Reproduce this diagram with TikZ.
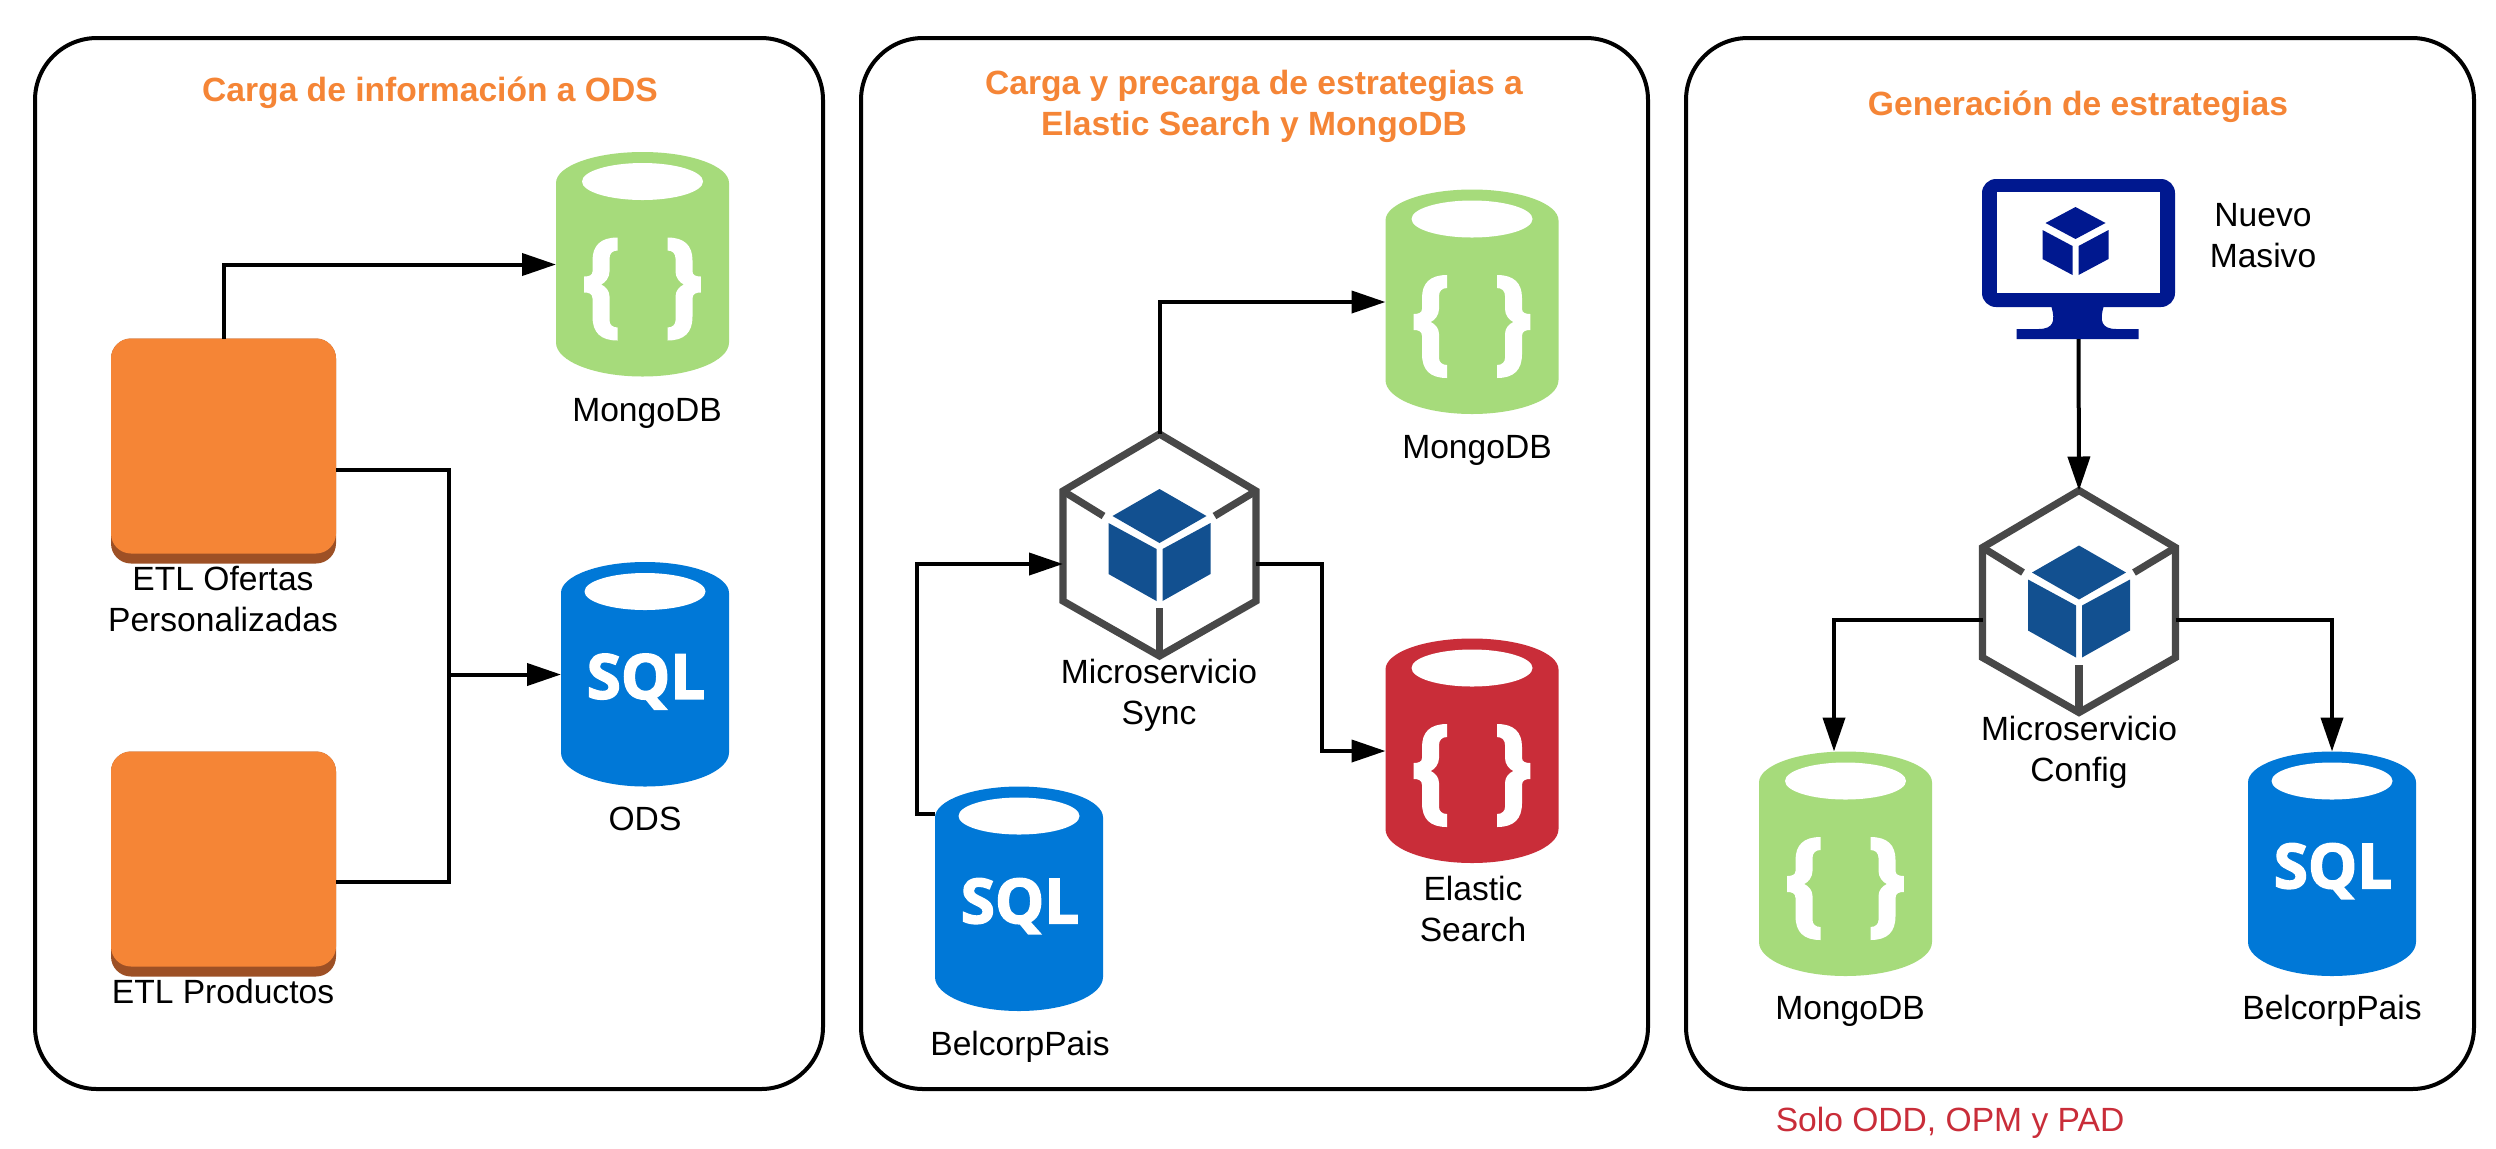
\documentclass[tikz,border=0pt]{standalone}
\usepackage{fontspec}
\setmainfont{Liberation Sans}
\newfontfamily\sqlfont{Open Sans}[BoldFeatures={FakeBold=2.5}]
\usetikzlibrary{arrows.meta,calc}
\definecolor{mongogreen}{HTML}{A6DB7B}
\definecolor{sqlblue}{HTML}{0078D7}
\definecolor{elasticred}{HTML}{C92D39}
\definecolor{etlorange}{HTML}{F58536}
\definecolor{etldark}{HTML}{9D5025}
\definecolor{cubeblue}{HTML}{125090}
\definecolor{hexgrey}{HTML}{484848}
\definecolor{screenblue}{HTML}{00188F}
\tikzset{
  panel/.style={draw=black,line width=2pt,rounded corners=31pt,fill=white},
  dbbox/.style={inner sep=0pt,outer sep=0pt,minimum width=86.5pt,minimum height=112.5pt},
  sqlbox/.style={inner sep=0pt,outer sep=0pt,minimum width=84pt,minimum height=112.5pt},
  hexbox/.style={inner sep=0pt,outer sep=0pt,minimum width=96.5pt,minimum height=111pt},
  etlbox/.style={inner sep=0pt,outer sep=0pt,minimum width=112.5pt,minimum height=112.5pt},
  screenbox/.style={inner sep=0pt,outer sep=0pt,minimum width=96.5pt,minimum height=80pt},
  lbl/.style={font=\fontsize{16.8}{20.5}\selectfont,align=center,text=black,inner sep=0pt},
  ttl/.style={font=\fontsize{16.8}{20.5}\selectfont\bfseries,align=center,text=etlorange,inner sep=0pt},
  note/.style={font=\fontsize{16.8}{20.5}\selectfont,text=elasticred,inner sep=0pt},
  conn/.style={draw=black,line width=2pt,-{Triangle[length=17pt,width=11pt]}},
  plainconn/.style={draw=black,line width=2pt},
  hexline/.style={draw=hexgrey,line width=3.6pt,line join=miter},
}
\newcommand{\dbshape}[3]{% node, half width, colour
  \begin{scope}[shift={(#1.center)}]
    \fill[#3] (-#2,-81.5) arc[start angle=180,end angle=360,x radius=#2,y radius=31]
      -- (#2,78) arc[start angle=0,end angle=180,x radius=#2,y radius=34] -- cycle;
    \fill[white] (0,-83) ellipse[x radius=60.5,y radius=18.5];
  \end{scope}}
\newcommand{\onebrace}{(-25,-27) .. controls (-42,-27) and (-50,-19) .. (-50,-4)
  -- (-50,7) .. controls (-50,11) and (-54,12) .. (-58.3,12) -- (-58.3,28)
  .. controls (-54,28) and (-50,29) .. (-50,34) -- (-50,52)
  .. controls (-50,68) and (-42,76) .. (-25,76) -- (-25,63)
  .. controls (-30,63) and (-33,60) .. (-33,56) -- (-33,32)
  .. controls (-33,26) and (-37,22) .. (-41.3,20)
  .. controls (-37,18) and (-33,13) .. (-33,7) -- (-33,-6)
  .. controls (-33,-11) and (-30,-14) .. (-25,-14) -- cycle}
\newcommand{\bracedb}[2]{% node, colour
  \dbshape{#1}{86.5}{#2}
  \begin{scope}[shift={(#1.center)}]
    \fill[white] \onebrace;
    \fill[white,xscale=-1] \onebrace;
  \end{scope}}
\newcommand{\sqldb}[1]{%
  \dbshape{#1}{84}{sqlblue}
  \node[text=white,inner sep=0pt,font=\fontsize{31}{31}\sqlfont\bfseries] (#1t) at ($(#1.center)+(1,7)$) {SQL};}
\newcommand{\hexicon}[1]{%
  \begin{scope}[shift={(#1.center)}]
    \draw[hexline] (0,-111) -- (96.5,-54) -- (96.5,56) -- (0,111) -- (-96.5,56) -- (-96.5,-54) -- cycle;
    \draw[hexline] (-96.5,-54) -- (-56,-29);
    \draw[hexline] (96.5,-54) -- (55,-29);
    \draw[hexline] (0,111) -- (0,63);
    \fill[cubeblue] (0,-56) -- (47,-29) -- (0,-2) -- (-47,-29) -- cycle;
    \fill[cubeblue] (-51,-22) -- (-3,4) -- (-3,56) -- (-51,29) -- cycle;
    \fill[cubeblue] (51,-22) -- (3,4) -- (3,56) -- (51,29) -- cycle;
  \end{scope}}
\newcommand{\etlicon}[1]{%
  \begin{scope}[shift={(#1.center)}]
    \fill[etldark,rounded corners=10pt] (-112.5,-112.5) rectangle (112.5,112.5);
    \fill[etlorange,rounded corners=10pt] (-112.5,-112.5) rectangle (112.5,102.5);
  \end{scope}}
\newcommand{\screenicon}[1]{%
  \begin{scope}[shift={(#1.center)}]
    \fill[screenblue,rounded corners=7pt] (-96.5,-80) rectangle (96.5,48);
    \fill[white] (-81.5,-67) rectangle (81.5,34);
    \fill[screenblue] (-27,48) .. controls (-23,62) and (-25,70) .. (-40,70) -- (-62,70)
      -- (-62,80) -- (60,80) -- (60,70) -- (38,70) .. controls (23,70) and (21,62) .. (25,48) -- cycle;
    \fill[screenblue] (-3,-52) -- (27,-36) -- (-3,-20) -- (-33,-36) -- cycle;
    \fill[screenblue] (-36,-29) -- (-6,-13) -- (-6,16) -- (-36,0) -- cycle;
    \fill[screenblue] (30,-29) -- (0,-13) -- (0,16) -- (30,0) -- cycle;
  \end{scope}}
\begin{document}
\begin{tikzpicture}[x=0.5pt,y=-0.5pt]
\useasboundingbox (0,0) rectangle (2496,1148);
\fill[white] (0,0) rectangle (2496,1148);
% panels
\node[panel,minimum width=394pt,minimum height=525.5pt,inner sep=0pt] (p1) at (429,563.5) {};
\node[panel,minimum width=393.5pt,minimum height=525.5pt,inner sep=0pt] (p2) at (1254.5,563.5) {};
\node[panel,minimum width=394pt,minimum height=525.5pt,inner sep=0pt] (p3) at (2080,563.5) {};
% titles
\node[ttl] (t1) at (430,93) {Carga de información a ODS};
\node[ttl] (t2) at (1254,106) {Carga y precarga de estrategias a\\Elastic Search y MongoDB};
\node[ttl] (t3) at (2078,107) {Generación de estrategias};
% panel 1
\node[etlbox] (etlA) at (223.5,451) {};
\node[etlbox] (etlB) at (223.5,864) {};
\etlicon{etlA}\etlicon{etlB}
\node[dbbox] (mongoA) at (642.5,264.5) {};
\bracedb{mongoA}{mongogreen}
\node[sqlbox] (ods) at (645,674.5) {};
\sqldb{ods}
\coordinate (join) at (449,674.5);
\node[lbl] (lA) at (647,413) {MongoDB};
\node[lbl] (lB) at (645,819) {ODS};
\node[lbl] (lC) at (223,599) {ETL Ofertas\\Personalizadas};
\node[lbl] (lD) at (223,991) {ETL Productos};
% panel 2
\node[hexbox] (hexA) at (1159.5,545) {};
\hexicon{hexA}
\node[dbbox] (mongoB) at (1472,302) {};
\bracedb{mongoB}{mongogreen}
\node[dbbox] (elastic) at (1472,751) {};
\bracedb{elastic}{elasticred}
\node[sqlbox] (bpA) at (1019,899) {};
\sqldb{bpA}
\node[lbl] (lE) at (1477,450) {MongoDB};
\node[lbl] (lF) at (1159,695) {Microservicio\\Sync};
\node[lbl] (lG) at (1473,909) {Elastic\\Search};
\node[lbl] (lH) at (1020,1047) {BelcorpPais};
% panel 3
\node[screenbox] (scr) at (2078.5,259) {};
\screenicon{scr}
\node[hexbox] (hexB) at (2079,601.5) {};
\hexicon{hexB}
\node[dbbox] (mongoC) at (1845.5,864) {};
\bracedb{mongoC}{mongogreen}
\node[sqlbox] (bpB) at (2332,864) {};
\sqldb{bpB}
\node[lbl] (lI) at (2263,236) {Nuevo\\Masivo};
\node[lbl] (lJ) at (2079,752.5) {Microservicio\\Config};
\node[lbl] (lK) at (1850,1011) {MongoDB};
\node[lbl] (lL) at (2332,1011) {BelcorpPais};
\node[note] (lM) at (1950,1123) {Solo ODD, OPM y PAD};
% connectors panel 1
\draw[conn] (etlA.north) |- (mongoA.west);
\draw[plainconn] ([yshift=-9.5pt]etlA.east) -| (join);
\draw[plainconn] ([yshift=-9pt]etlB.east) -| (join);
\draw[conn] (join) -- (ods.west);
% connectors panel 2
\draw[conn] (hexA.north) |- (mongoB.west);
\draw[conn] ([yshift=-9.5pt]hexA.east) -- ++(66,0) |- (elastic.west);
\draw[conn] ([yshift=42.5pt]bpA.west) -- ++(-18,0) |- ([yshift=-9.5pt]hexA.west);
% connectors panel 3
\draw[conn] (scr.south) -- (hexB.north);
\draw[conn] ([yshift=-9.25pt]hexB.west) -| ([xshift=-5.75pt]mongoC.north);
\draw[conn] ([yshift=-9.25pt]hexB.east) -| (bpB.north);
\end{tikzpicture}
\end{document}
